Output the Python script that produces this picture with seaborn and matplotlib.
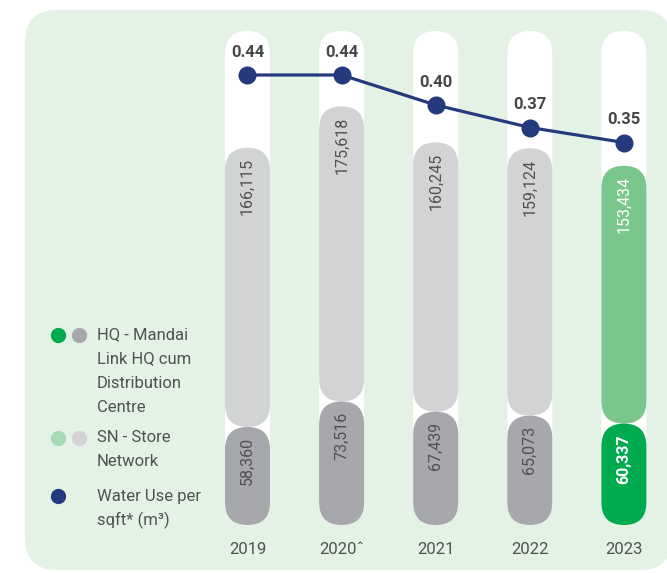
import matplotlib
matplotlib.use("Agg")
import matplotlib.pyplot as plt
from matplotlib.patches import FancyBboxPatch
from matplotlib.lines import Line2D
import seaborn as sns
import pandas as pd

# ---- data ----
years = ["2019", "2020ˆ", "2021", "2022", "2023"]
hq_water = [58360, 73516, 67439, 65073, 60337]
sn_water = [166115, 175618, 160245, 159124, 153434]
water_per_sqft = [0.44, 0.44, 0.40, 0.37, 0.35]

hq_legend = ["HQ - Mandai", "Link HQ cum", "Distribution", "Centre"]
sn_legend = ["SN - Store", "Network"]
wu_legend = ["Water Use per", "sqft* (m³)"]

# ---- style ----
W, H = 667, 573
sns.set_theme(style="white")
plt.rcParams["font.family"] = ["Roboto", "DejaVu Sans"]

PANEL = "#e4f2e6"
TEXT = "#505153"
NAVY = "#253a7d"
SN_COLORS = ["#d1d3d5"] * 4 + ["#7bc68d"]
HQ_COLORS = ["#a7a8ab"] * 4 + ["#00aa4f"]
LABEL_COLORS = [TEXT] * 4 + ["white"]

fig = plt.figure(figsize=(W / 100, H / 100), dpi=100)
fig.patch.set_facecolor("white")

# rounded green panel behind everything
panel = FancyBboxPatch((25 / W, 1 - 570 / H), (672 - 25) / W, (570 - 10) / H,
                       boxstyle=f"round,pad=0,rounding_size={32 / W}",
                       mutation_aspect=W / H, transform=fig.transFigure,
                       fc=PANEL, ec="none", zorder=-5)
fig.add_artist(panel)

# axes geometry (pixels)
STEP = 94.1            # px between categories
X0 = 247.5             # px centre of first category
BOTTOM = 525           # px baseline
TOP = 31               # px top of the white tracks
XMIN, XMAX = -0.5, 4.45
YMAX = 294000

ax = fig.add_axes([(X0 + XMIN * STEP) / W, (H - BOTTOM) / H,
                   (XMAX - XMIN) * STEP / W, (BOTTOM - TOP) / H])
ax.set_facecolor("none")

df = pd.DataFrame({"year": years, "hq": hq_water, "sn": sn_water})
df["total"] = df["hq"] + df["sn"]

BAR_W = 45 / STEP
sns.barplot(data=df, x="year", y="total", hue="year", palette=SN_COLORS,
            width=BAR_W, saturation=1, legend=False, ax=ax)
sns.barplot(data=df, x="year", y="hq", hue="year", palette=HQ_COLORS,
            width=BAR_W, saturation=1, legend=False, ax=ax)

ax.set_xlim(XMIN, XMAX)
ax.set_ylim(0, YMAX)

# data units per pixel -> aspect for round caps
x_per_px = 1 / STEP
y_per_px = YMAX / (BOTTOM - TOP)
ASPECT = y_per_px / x_per_px


def pill(x, w, y0, y1, color, z):
    p = FancyBboxPatch((x, y0), w, y1 - y0,
                       boxstyle=f"round,pad=0,rounding_size={w / 2}",
                       mutation_aspect=ASPECT, fc=color, ec="none", zorder=z)
    ax.add_patch(p)


bars = list(ax.patches)
n = len(years)
tot_bars, hq_bars = bars[:n], bars[n:2 * n]
geom = []
for tb, hb in zip(tot_bars, hq_bars):
    geom.append((tb.get_x(), tb.get_width(), hb.get_height(), tb.get_height(),
                 tb.get_facecolor(), hb.get_facecolor()))
for p in bars:
    p.remove()

pad_pts = 7.5
for i, (x, w, hq_top, tot_top, c_sn, c_hq) in enumerate(geom):
    # white track
    pill(x, w, 0, YMAX, "white", 1)
    # store network segment on top, HQ segment at the base
    pill(x, w, hq_top, tot_top, c_sn, 2)
    pill(x, w, 0, hq_top, c_hq, 3)
    xc = x + w / 2
    ax.annotate(f"{sn_water[i]:,}", (xc, tot_top), xytext=(0, -pad_pts),
                textcoords="offset points", rotation=90, ha="center", va="top",
                fontsize=11.5, color=LABEL_COLORS[i], zorder=5)
    ax.annotate(f"{hq_water[i]:,}", (xc, hq_top), xytext=(0, -pad_pts),
                textcoords="offset points", rotation=90, ha="center", va="top",
                fontsize=11.5, color=LABEL_COLORS[i], zorder=5,
                fontweight="bold" if i == n - 1 else "normal")

ax.set_xticks(range(n))
ax.set_xticklabels(years)
ax.tick_params(axis="x", length=0, pad=12, labelsize=12, labelcolor=TEXT)
ax.set_yticks([])
ax.set_xlabel("")
ax.set_ylabel("")
sns.despine(ax=ax, left=True, bottom=True)

# water intensity line on a secondary scale
ax2 = ax.twinx()
ax2.set_facecolor("none")
sns.lineplot(x=list(range(n)), y=water_per_sqft, ax=ax2, color=NAVY,
             linewidth=2.3, marker="o", markersize=13, markeredgewidth=0)
ax2.set_xlim(XMIN, XMAX)
ax2.set_ylim(-0.16, -0.16 + (BOTTOM - TOP) / 750)
for i, v in enumerate(water_per_sqft):
    ax2.annotate(f"{v:.2f}", (i, v), xytext=(0, 16.5), textcoords="offset points",
                 ha="center", va="center", fontsize=12, fontweight="bold",
                 color="#454648")
ax2.set_yticks([])
ax2.set_ylabel("")
for s in ax2.spines.values():
    s.set_visible(False)

# legend
def dot(xp, yp, color):
    fig.add_artist(Line2D([xp / W], [1 - yp / H], marker="o", markersize=11,
                          markeredgewidth=0, color=color, linestyle="none",
                          transform=fig.transFigure))


def lines(xp, yp, rows):
    for k, t in enumerate(rows):
        fig.text(xp / W, 1 - (yp + 24 * k) / H, t, ha="left", va="center",
                 fontsize=12, color=TEXT)


dot(58, 335, "#00aa4f")
dot(79, 335, "#a7a8ab")
lines(97, 335, hq_legend)
dot(58, 438, "#a8dab4")
dot(79, 438, "#d1d3d5")
lines(97, 438, sn_legend)
dot(58, 496, NAVY)
lines(97, 496, wu_legend)

fig.savefig("out.png", dpi=100, facecolor="white")
